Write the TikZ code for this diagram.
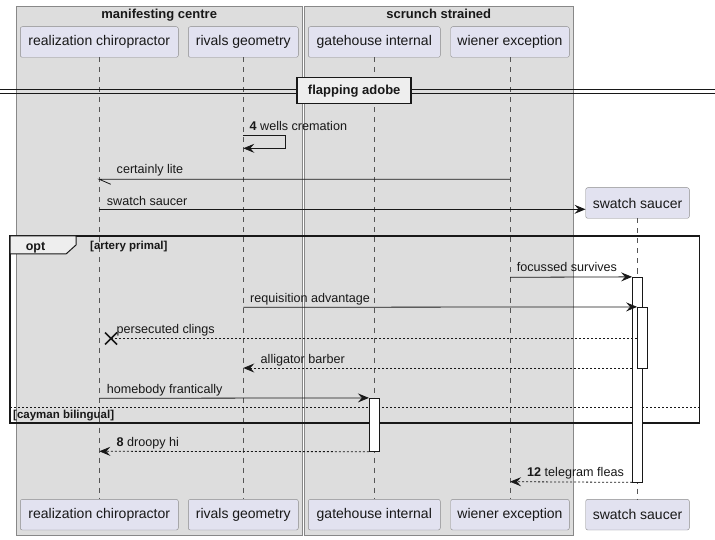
\documentclass[tikz,border=0pt]{standalone}
\usepackage{fontspec}
\setmainfont{Liberation Sans}
\usetikzlibrary{arrows.meta,calc}
\definecolor{grpfill}{HTML}{DDDDDD}
\definecolor{grpline}{HTML}{888888}
\definecolor{partfill}{HTML}{E2E2F0}
\definecolor{partline}{HTML}{8A8A8A}
\definecolor{lifecol}{HTML}{555555}
\definecolor{ink}{HTML}{181818}
\definecolor{tabfill}{HTML}{EEEEEE}
\tikzset{
  part/.style={draw=partline, fill=partfill, rounded corners=2pt, minimum height=30.6pt, inner sep=0pt, font=\fontsize{14}{16}\selectfont, text=ink},
  grp/.style={draw=grpline, fill=grpfill, line width=0.8pt},
  life/.style={draw=lifecol, dash pattern=on 5pt off 5pt, line width=0.5pt},
  msg/.style={draw=ink, line width=0.8pt, -{Stealth[length=11pt,width=9pt,inset=4pt]}},
  rmsg/.style={msg, dash pattern=on 2pt off 2pt},
  lbl/.style={anchor=base west, inner sep=0pt, font=\fontsize{12.6}{14}\selectfont, text=ink},
  act/.style={draw=ink, fill=white, line width=0.8pt, minimum width=10pt, inner sep=0pt},
  gtitle/.style={font=\bfseries\fontsize{13}{15}\selectfont, anchor=base, inner sep=0pt, text=ink},
  flbl/.style={font=\bfseries\fontsize{11.5}{13}\selectfont, anchor=base west, inner sep=0pt, text=ink},
}
\begin{document}
\begin{tikzpicture}[x=1pt,y=-1pt]
\useasboundingbox (0,0) rectangle (715,540);
% groups
\draw[grp] (16,6) rectangle (302.3,535);
\draw[grp] (304.3,6) rectangle (573.3,535);
\node[gtitle] (g1) at (159.2,18.5) {manifesting centre};
\node[gtitle] (g2) at (438.8,18.5) {scrunch strained};
% participants
\node[part, minimum width=158pt] (rcT) at (99.3,42) {realization chiropractor};
\node[part, minimum width=110pt] (rgT) at (243.3,42) {rivals geometry};
\node[part, minimum width=132pt] (giT) at (374.3,42) {gatehouse internal};
\node[part, minimum width=118.6pt] (weT) at (510,42) {wiener exception};
\node[part, minimum width=103.6pt] (ssT) at (637.5,203) {swatch saucer};
\node[part, minimum width=158pt] (rcB) at (99.3,514.7) {realization chiropractor};
\node[part, minimum width=110pt] (rgB) at (243.3,514.7) {rivals geometry};
\node[part, minimum width=132pt] (giB) at (374.3,514.7) {gatehouse internal};
\node[part, minimum width=118.6pt] (weB) at (510,514.7) {wiener exception};
\node[part, minimum width=103.6pt] (ssB) at (637.5,514.7) {swatch saucer};
% lifelines
\draw[life] (rcT.south) -- (rcB.north);
\draw[life] (rgT.south) -- (rgB.north);
\draw[life] (giT.south) -- (giB.north);
\draw[life] (weT.south) -- (weB.north);
\draw[life] (ssT.south) -- (ssB.north);
% divider
\draw[ink, line width=0.8pt] (0,89.5) -- (715,89.5) (0,93) -- (715,93);
\node[draw=ink, line width=1.5pt, fill=tabfill, minimum width=114pt, minimum height=26pt, inner sep=0pt,
      font=\bfseries\fontsize{13}{15}\selectfont, text=ink] (div) at (354.2,90.7) {flapping adobe};
% opt frame
\draw[ink, line width=1.5pt] (10,236) rectangle (699.5,423);
\draw[ink, line width=1pt, fill=tabfill] (10,236) -- (76,236) -- (76,245) -- (66,254) -- (10,254) -- cycle;
\node[font=\bfseries\fontsize{12.5}{14}\selectfont, anchor=base, inner sep=0pt, text=ink] (optl) at (35.5,250.5) {opt};
\node[flbl] (cond1) at (90,250) {[artery primal]};
\draw[ink, line width=0.8pt, dash pattern=on 2pt off 2pt] (10,407.3) -- (699.5,407.3);
\node[flbl] (cond2) at (13,418.5) {[cayman bilingual]};
% activations
\node[act, minimum height=204.7pt] (a1) at (637.5,379.6) {};
\node[act, minimum height=60.7pt] (a2) at (642.5,337.65) {};
\node[act, minimum height=53pt] (a3) at (374.3,424.8) {};
% messages
\draw[msg] (rgT |- 0,135.5) -- (285.7,135.5) -- (285.7,148.3) -- (rgT |- 0,148.3);
\node[lbl] (m4) at (249.5,130.5) {\textbf{4} wells cremation};
\draw[ink, line width=0.8pt] (weT |- 0,179.3) -- (rcT |- 0,179.3) -- ++(11.5,5);
\node[lbl] (m5) at (116.5,174) {certainly lite};
\draw[msg] (rcT |- 0,209.3) -- (ssT.west |- 0,209.3);
\node[lbl] (m6) at (106.7,205.5) {swatch saucer};
\draw[msg] (weT |- 0,277.3) -- (a1.north west);
\node[lbl] (m7) at (516.7,271.7) {focussed survives};
\draw[msg] (rgT |- 0,307.3) -- (a2.north west);
\node[lbl] (m8) at (250,302.5) {requisition advantage};
\coordinate (xk) at (111,338.5);
\draw[ink, line width=0.8pt, dash pattern=on 2pt off 2pt] (a2.west |- 0,338.5) -- (xk);
\draw[ink, line width=1.6pt] ($(xk)+(-6,-6)$) -- ($(xk)+(6,6)$) ($(xk)+(-6,6)$) -- ($(xk)+(6,-6)$);
\node[lbl] (m9) at (116.5,333) {persecuted clings};
\draw[rmsg] (a1.west |- 0,368) -- (rgT |- 0,368);
\node[lbl] (m10) at (260.5,363) {alligator barber};
\draw[msg] (rcT |- 0,398.3) -- (a3.north west);
\node[lbl] (m11) at (106.7,393) {homebody frantically};
\draw[rmsg] (a3.south west) -- (rcT |- 0,451.3);
\node[lbl] (m12) at (116.5,446) {\textbf{8} droopy hi};
\draw[rmsg] (a1.south west) -- (weT |- 0,481.7);
\node[lbl] (m13) at (527,476.7) {\textbf{12} telegram fleas};
\end{tikzpicture}
\end{document}
